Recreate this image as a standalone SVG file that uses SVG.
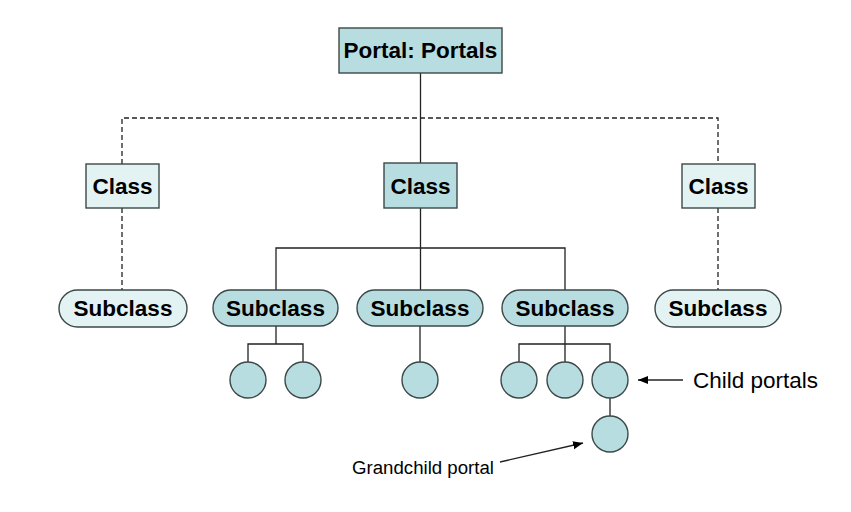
<svg xmlns="http://www.w3.org/2000/svg" width="851" height="512" viewBox="0 0 851 512">
<style>
.dark{fill:#b7dde0;stroke:#3c4848;stroke-width:1.4}
.light{fill:#e3f3f4;stroke:#3c4848;stroke-width:1.4}
.lbl{font-family:"Liberation Sans",Arial,sans-serif;font-weight:bold;font-size:22.5px;fill:#000;text-anchor:middle}
.note{font-family:"Liberation Sans",Arial,sans-serif;font-size:22.5px;fill:#000}
.solid{fill:none;stroke:#222;stroke-width:1.3}
.dash{fill:none;stroke:#222;stroke-width:1.3;stroke-dasharray:5 3}
</style>
<defs>
<marker id="ah" viewBox="0 0 10 10" refX="10" refY="5" markerWidth="10" markerHeight="10" markerUnits="userSpaceOnUse" orient="auto">
<path d="M0,1 L10,5 L0,9 z" fill="#000"/>
</marker>
</defs>
<rect width="851" height="512" fill="#fff"/>
<g id="connectors">
<path class="solid" d="M420.5,73 V163"/>
<path class="dash" d="M122,164 V118 H718 V164"/>
<path class="dash" d="M122,208 V290"/>
<path class="dash" d="M718,208 V290"/>
<path class="solid" d="M420.5,208 V248 M276,290 V248 H565 V290 M420.5,248 V290"/>
<path class="solid" d="M276,326 V344 M248,362 V344 H303 V362"/>
<path class="solid" d="M420,326 V362"/>
<path class="solid" d="M565,326 V362 M519,362 V344 H610 V362"/>
<path class="solid" d="M610,398 V416"/>
<path class="solid" d="M683,380 H638" marker-end="url(#ah)"/>
<path class="solid" d="M500,462 L583,443" marker-end="url(#ah)"/>
</g>
<g id="portal"><rect class="dark" x="339" y="28" width="163" height="45"/><text class="lbl" x="420.5" y="58">Portal: Portals</text></g>
<g id="class-left"><rect class="light" x="86" y="164" width="73" height="44"/><text class="lbl" x="122.5" y="194">Class</text></g>
<g id="class-center"><rect class="dark" x="384" y="163" width="73" height="45"/><text class="lbl" x="420.5" y="194">Class</text></g>
<g id="class-right"><rect class="light" x="682" y="164" width="73" height="44"/><text class="lbl" x="718.5" y="194">Class</text></g>
<g id="subclass-1"><rect class="light" x="59" y="290" width="128" height="37" rx="18.5"/><text class="lbl" x="123" y="316">Subclass</text></g>
<g id="subclass-2"><rect class="dark" x="213" y="290" width="125" height="36" rx="18"/><text class="lbl" x="275.5" y="316">Subclass</text></g>
<g id="subclass-3"><rect class="dark" x="357" y="290" width="126" height="36" rx="18"/><text class="lbl" x="420" y="316">Subclass</text></g>
<g id="subclass-4"><rect class="dark" x="502" y="290" width="126" height="36" rx="18"/><text class="lbl" x="565" y="316">Subclass</text></g>
<g id="subclass-5"><rect class="light" x="655" y="290" width="126" height="37" rx="18.5"/><text class="lbl" x="718" y="316">Subclass</text></g>
<g id="child-1"><circle class="dark" cx="248" cy="380" r="18"/></g>
<g id="child-2"><circle class="dark" cx="303" cy="380" r="18"/></g>
<g id="child-3"><circle class="dark" cx="420" cy="380" r="18"/></g>
<g id="child-4"><circle class="dark" cx="519" cy="380" r="18"/></g>
<g id="child-5"><circle class="dark" cx="565" cy="380" r="18"/></g>
<g id="child-6"><circle class="dark" cx="610" cy="380" r="18"/></g>
<g id="grandchild"><circle class="dark" cx="610" cy="434" r="18"/></g>
<g id="label-child"><text class="note" x="693" y="388">Child portals</text></g>
<g id="label-grandchild"><text class="note" x="352" y="474" style="font-size:18px" textLength="142" lengthAdjust="spacingAndGlyphs">Grandchild portal</text></g>
</svg>
